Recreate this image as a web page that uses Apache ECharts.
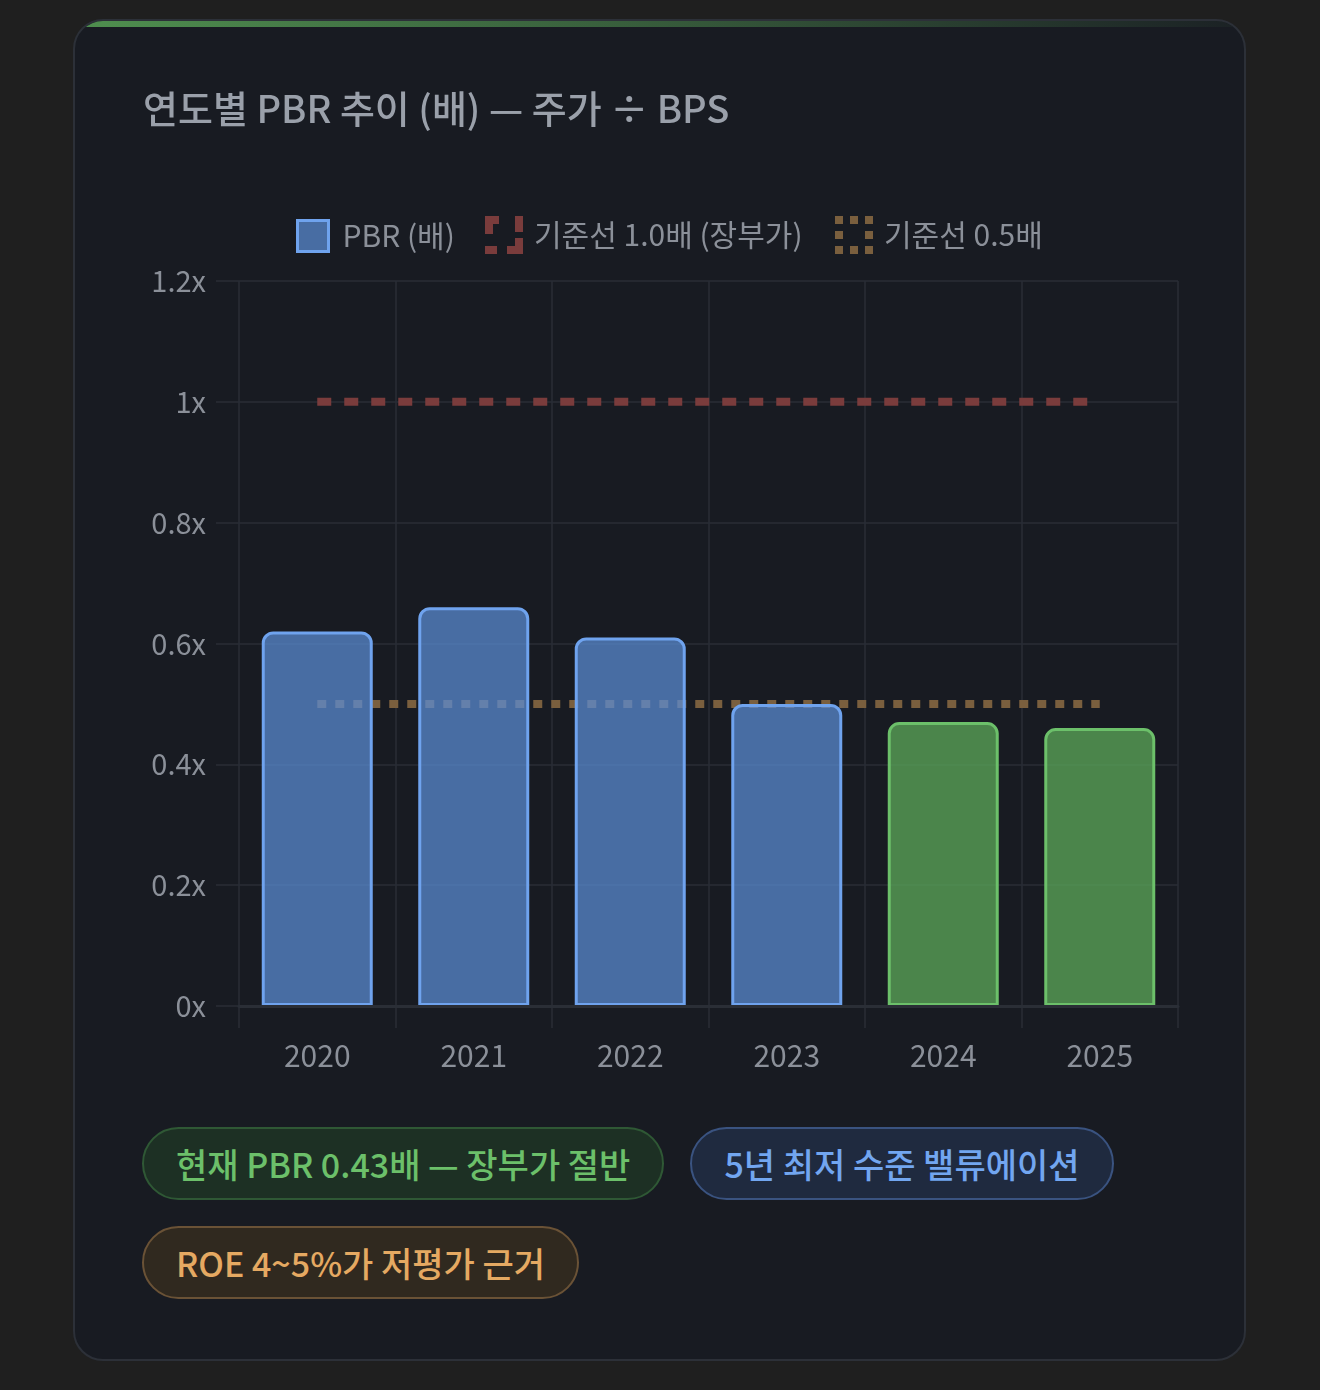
<!DOCTYPE html>
<html>
<head>
<meta charset="utf-8">
<script src="https://cdn.jsdelivr.net/npm/echarts@6/dist/echarts.min.js"></script>
<style>
  html, body { margin: 0; padding: 0; background: #1f1f1f; }
  body { width: 1320px; height: 1390px; position: relative; overflow: hidden;
         font-family: "Noto Sans CJK KR", "Noto Sans", sans-serif; }
  .card { position: absolute; left: 73px; top: 19px; width: 1169px; height: 1338px;
          background: #181b22; border: 2px solid #2c3038; border-radius: 30px; overflow: hidden; }
  .card .bar { position: absolute; left: 0; top: 0; right: 0; height: 6px;
               background: linear-gradient(90deg, #4f8f4f 0%, rgba(79,143,79,0.55) 50%, rgba(79,143,79,0.05) 100%); }
  #chart { position: absolute; left: 0; top: 0; width: 1320px; height: 1110px; }
  .badges { position: absolute; left: 142px; top: 1127px; width: 1050px; }
  .badge { display: inline-block; box-sizing: border-box; height: 73px; line-height: 69px;
           padding: 0 32px; border-radius: 37px; border: 2px solid; font-size: 34px;
           font-weight: 500; margin: 0 26px 26px 0; white-space: nowrap; vertical-align: top; }
  .g { background: #1d3024; border-color: #2f5835; color: #6cc06a; }
  .b { background: #1f2a3f; border-color: #3a5380; color: #72a6f0; }
  .o { background: #30291f; border-color: #6a5236; color: #e5a962; }
</style>
</head>
<body>
<div class="card"><div class="bar"></div></div>
<div id="chart"></div>
<div class="badges">
  <span class="badge g">현재 PBR 0.43배 — 장부가 절반</span><span class="badge b">5년 최저 수준 밸류에이션</span><br>
  <span class="badge o">ROE 4~5%가 저평가 근거</span>
</div>
<script>
// values
const years = ['2020', '2021', '2022', '2023', '2024', '2025'];
const pbr = [0.62, 0.66, 0.61, 0.50, 0.47, 0.46];
const bookLine = [1.0, 1.0, 1.0, 1.0, 1.0, 1.0];
const halfLine = [0.5, 0.5, 0.5, 0.5, 0.5, 0.5];
const greenYears = ['2024', '2025'];

const BLUE = 'rgba(91,141,214,0.72)', BLUE_EDGE = '#6fa3ee';
const GREEN = 'rgba(92,170,90,0.75)', GREEN_EDGE = '#6cc06a';
const RED_LINE = '#7a3c3c', GOLD_LINE = '#7a5f3e';
const GRID = '#2a2e36', TXT = '#8b9099';

const dashIcon = 'path://M0 0H14V8H8V18H0Z M30 0H38V16H30Z M0 30H12V38H0Z M38 22V38H22V30H30V22Z';
const dotIcon = 'path://M0 0H8V8H0Z M15 0H23V8H15Z M30 0H38V8H30Z M0 15H8V23H0Z M30 15H38V23H30Z M0 30H8V38H0Z M15 30H23V38H15Z M30 30H38V38H30Z';

const chart = echarts.init(document.getElementById('chart'), null, { renderer: 'canvas' });

const legendText = { color: TXT, fontSize: 30, fontFamily: 'Noto Sans CJK KR' };

chart.setOption({
  animation: false,
  textStyle: { fontFamily: 'Noto Sans CJK KR' },
  title: {
    text: '연도별 PBR 추이 (배) — 주가 ÷ BPS',
    left: 138, top: 85,
    textStyle: { color: '#9aa0aa', fontSize: 38, fontWeight: 500, fontFamily: 'Noto Sans CJK KR' }
  },
  legend: [
    { left: 296, top: 219, padding: 0, itemWidth: 31, itemHeight: 31, selectedMode: false,
      textStyle: Object.assign({ padding: [0, 0, 0, 9] }, legendText),
      data: [{ name: 'PBR (배)', icon: 'rect',
               itemStyle: { color: BLUE, borderColor: BLUE_EDGE, borderWidth: 3 } }] },
    { left: 485, top: 216, padding: 0, itemWidth: 38, itemHeight: 38, selectedMode: false,
      textStyle: Object.assign({ padding: [0, 0, 0, 6] }, legendText),
      data: [{ name: '기준선 1.0배 (장부가)', icon: dashIcon,
               itemStyle: { color: RED_LINE, borderWidth: 0 }, lineStyle: { width: 0 } }] },
    { left: 835, top: 216, padding: 0, itemWidth: 38, itemHeight: 38, selectedMode: false,
      textStyle: Object.assign({ padding: [0, 0, 0, 6] }, legendText),
      data: [{ name: '기준선 0.5배', icon: dotIcon,
               itemStyle: { color: GOLD_LINE, borderWidth: 0 }, lineStyle: { width: 0 } }] }
  ],
  grid: { left: 239, right: 142, top: 281, bottom: 104 },
  xAxis: [
    {
      type: 'category',
      data: years,
      boundaryGap: true,
      axisLine: { show: true, lineStyle: { color: GRID, width: 1.5 } },
      axisTick: { show: true, length: 22, lineStyle: { color: GRID, width: 1.5 } },
      splitLine: { show: true, interval: 0, lineStyle: { color: GRID, width: 1.5 } },
      axisLabel: { color: TXT, fontSize: 30, margin: 35 }
    },
    {
      // base line drawn over the bars so their bottom edge stays hidden
      type: 'category',
      data: years,
      position: 'bottom',
      z: 10,
      axisLine: { show: true, lineStyle: { color: GRID, width: 3 } },
      axisTick: { show: false },
      axisLabel: { show: false },
      splitLine: { show: false }
    }
  ],
  yAxis: {
    type: 'value',
    min: 0, max: 1.2, interval: 0.2,
    axisLine: { show: false },
    axisTick: { show: true, length: 23, lineStyle: { color: GRID, width: 1.5 } },
    splitLine: { show: true, lineStyle: { color: GRID, width: 1.5 } },
    axisLabel: { color: TXT, fontSize: 29, margin: 33,
                 formatter: v => (+v.toFixed(1)) + 'x' }
  },
  series: [
    {
      name: 'PBR (배)',
      type: 'bar',
      z: 3,
      barWidth: 111,
      itemStyle: { color: BLUE, borderColor: BLUE_EDGE, borderWidth: 3, borderRadius: [10, 10, 0, 0] },
      data: pbr.map((v, i) => greenYears.includes(years[i])
        ? { value: v, itemStyle: { color: GREEN, borderColor: GREEN_EDGE } }
        : v)
    },
    {
      name: '기준선 1.0배 (장부가)',
      type: 'line',
      z: 1,
      symbol: 'none',
      itemStyle: { color: RED_LINE },
      lineStyle: { color: RED_LINE, width: 8, type: [14, 13], cap: 'butt' },
      data: bookLine
    },
    {
      name: '기준선 0.5배',
      type: 'line',
      z: 1,
      symbol: 'none',
      itemStyle: { color: GOLD_LINE },
      lineStyle: { color: GOLD_LINE, width: 8, type: [9, 9], cap: 'butt' },
      data: halfLine
    }
  ]
});
</script>
</body>
</html>
